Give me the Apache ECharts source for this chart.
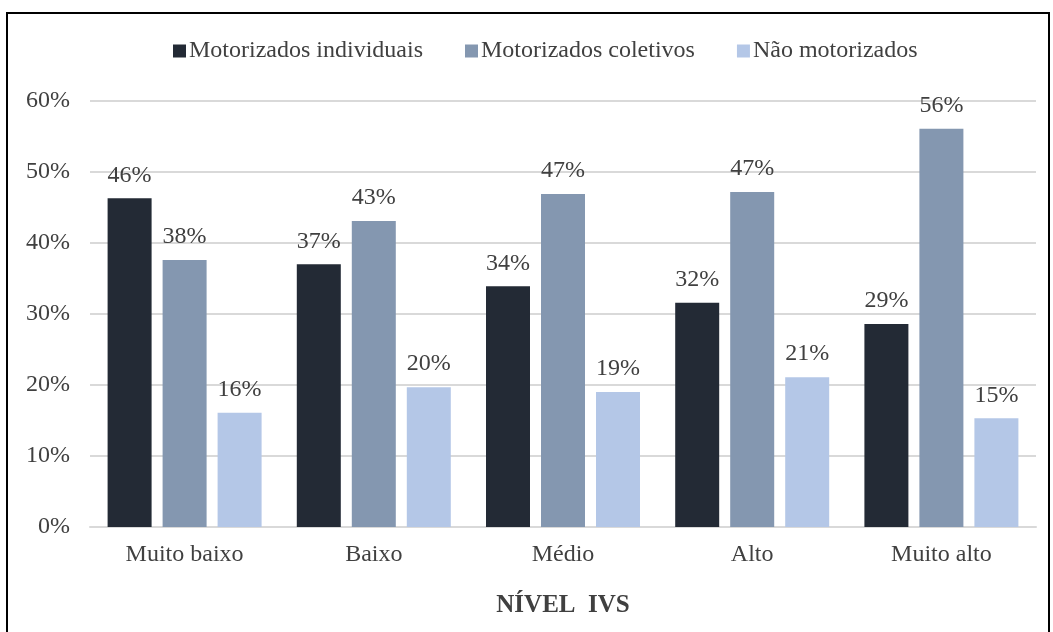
<!DOCTYPE html>
<html>
<head>
<meta charset="utf-8">
<script src="https://cdn.jsdelivr.net/npm/echarts@6/dist/echarts.min.js"></script>
<style>
  html, body { margin: 0; padding: 0; background: #fff; }
  #chart { width: 1053px; height: 632px; }
</style>
</head>
<body>
<div id="chart"></div>
<script>
var categories = ['Muito baixo', 'Baixo', 'Médio', 'Alto', 'Muito alto'];
var individuais = [46.3, 37.0, 33.9, 31.6, 28.6];
var coletivos = [37.6, 43.1, 46.9, 47.2, 56.1];
var naoMotorizados = [16.1, 19.7, 19.0, 21.1, 15.3];
var seriesNames = ['Motorizados individuais', 'Motorizados coletivos', 'Não motorizados'];
var colors = ['#232a35', '#8497b0', '#b4c7e7'];

var font = '"Liberation Serif", "Times New Roman", serif';
var textColor = '#404040';

function makeSeries(name, data, color) {
    return {
        name: name,
        type: 'bar',
        data: data,
        barWidth: 44,
        barGap: '25%',
        itemStyle: { color: color },
        label: {
            show: true,
            position: 'top',
            distance: 11,
            fontFamily: font,
            fontSize: 24,
            color: textColor,
            formatter: function (p) { return Math.round(p.value) + '%'; }
        }
    };
}

window.onload = function () {
    var myChart = echarts.init(document.getElementById('chart'));
    var option = {
        animation: false,
        textStyle: { fontFamily: font },
        graphic: [{
            type: 'rect',
            shape: { x: 7, y: 13, width: 1042, height: 640 },
            style: { fill: 'none', stroke: '#000', lineWidth: 2 },
            silent: true
        }],
        legend: {
            top: 34,
            left: 168,
            itemWidth: 13,
            itemHeight: 13,
            itemGap: 42,
            icon: 'rect',
            textStyle: { fontFamily: font, fontSize: 24, color: textColor, padding: [0, 0, 0, -2] },
            data: seriesNames
        },
        grid: { left: 90, right: 17, top: 101, bottom: 105, outerBoundsMode: 'none' },
        xAxis: {
            type: 'category',
            data: categories,
            axisLine: { lineStyle: { color: '#d9d9d9', width: 2 } },
            axisTick: { show: false },
            axisLabel: { fontFamily: font, fontSize: 24, color: textColor, margin: 16 },
            name: 'NÍVEL  IVS',
            nameLocation: 'middle',
            nameGap: 66,
            nameTextStyle: { fontFamily: font, fontSize: 25, fontWeight: 'bold', color: textColor }
        },
        yAxis: {
            type: 'value',
            min: 0,
            max: 60,
            interval: 10,
            axisLine: { show: false },
            axisTick: { show: false },
            axisLabel: { fontFamily: font, fontSize: 24, color: textColor, margin: 20, formatter: '{value}%' },
            splitLine: { lineStyle: { color: '#d9d9d9', width: 2 } }
        },
        series: [
            makeSeries(seriesNames[0], individuais, colors[0]),
            makeSeries(seriesNames[1], coletivos, colors[1]),
            makeSeries(seriesNames[2], naoMotorizados, colors[2])
        ]
    };
    myChart.setOption(option);
};
</script>
</body>
</html>
